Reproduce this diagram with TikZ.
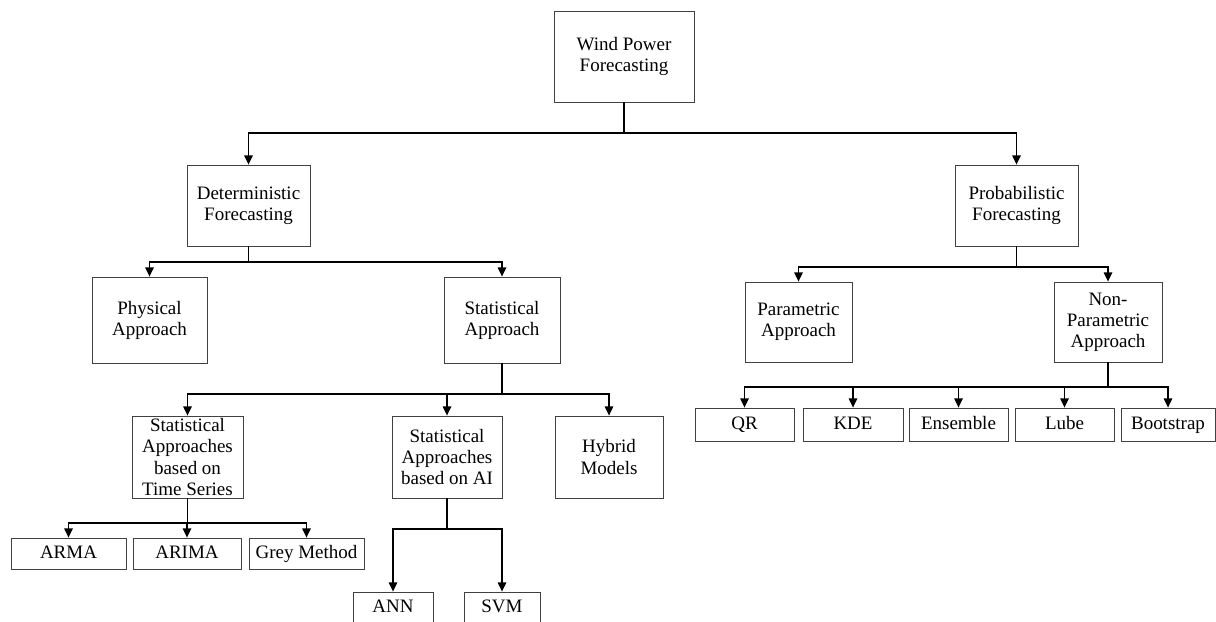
\documentclass[tikz,border=0pt]{standalone}
\usepackage{fontspec}
\setmainfont{Liberation Serif}
\usetikzlibrary{arrows.meta}
\definecolor{BoxClr}{rgb}{0.25,0.25,0.25}
\definecolor{LineClr}{rgb}{0,0,0}

\begin{document}
\begin{tikzpicture}[x=0.025cm,y=-0.025cm,
  box/.style 2 args={draw=BoxClr,line width=0.6pt,align=center,inner sep=0pt,
    minimum width=#1*0.025cm,minimum height=#2*0.025cm,
    font=\fontsize{13.5}{15}\selectfont},
  leaf/.style={text height=1.9ex,text depth=0.45ex},
  arr/.style={line width=0.9pt,color=LineClr,-{Triangle[length=6.5pt,width=6pt]}},
  stem/.style={line width=0.9pt,color=LineClr}]
\useasboundingbox (0,0) rectangle (1216,621);

\node[box={140}{91}] (wpf) at (624,56.5) {Wind Power\\Forecasting};

\node[box={123}{81}] (det) at (248.5,205.5) {Deterministic\\Forecasting};
\node[box={123}{81}] (prob) at (1016.5,205.5) {Probabilistic\\Forecasting};

\node[box={115}{86}] (phys) at (149.5,320) {Physical\\Approach};
\node[box={116}{86}] (stat) at (502,320) {Statistical\\Approach};
\node[box={107}{80}] (para) at (798.5,322) {Parametric\\Approach};
\node[box={108}{80}] (nonp) at (1108,322) {Non-\\Parametric\\Approach};

\node[box={99}{33},leaf] (qr) at (744.5,424.5) {QR};
\node[box={100}{33},leaf] (kde) at (853,424.5) {KDE};
\node[box={99}{33},leaf] (ens) at (958.5,424.5) {Ensemble};
\node[box={99}{33},leaf] (lube) at (1064.5,424.5) {Lube};
\node[box={94}{33},leaf] (boot) at (1168,424.5) {Bootstrap};

\node[box={111}{82}] (ts) at (187.5,457) {Statistical\\Approaches\\based on\\Time Series};
\node[box={110}{82}] (ai) at (447,457) {Statistical\\Approaches\\based on AI};
\node[box={108}{82}] (hyb) at (609,457) {Hybrid\\Models};

\node[box={115}{31},leaf] (arma) at (68.5,553.5) {ARMA};
\node[box={108}{31},leaf] (arima) at (187,553.5) {ARIMA};
\node[box={115}{31},leaf] (grey) at (306.5,553.5) {Grey Method};

\node[box={80}{31},leaf] (ann) at (393,607.5) {ANN};
\node[box={76}{31},leaf] (svm) at (502,607.5) {SVM};

\coordinate (j0) at (624,133);
\coordinate (j1) at (248.5,262);
\coordinate (j2) at (1016.5,267);
\coordinate (j3) at (502,394);
\coordinate (j4) at (1108,387);
\coordinate (j5) at (187.5,523);
\coordinate (j6) at (447,529);

\draw[stem] (wpf) -- (j0);
\draw[arr] (j0) -| (det);
\draw[arr] (j0) -| (prob);

\draw[stem] (det) -- (j1);
\draw[arr] (j1) -| (phys);
\draw[arr] (j1) -| (stat);

\draw[stem] (prob) -- (j2);
\draw[arr] (j2) -| (para);
\draw[arr] (j2) -| (nonp);

\draw[stem] (stat) -- (j3);
\foreach \n in {ts,ai,hyb}
  \draw[arr] (j3) -| (\n);

\draw[stem] (nonp) -- (j4);
\foreach \n in {qr,kde,ens,lube,boot}
  \draw[arr] (j4) -| (\n);

\draw[stem] (ts) -- (j5);
\foreach \n in {arma,arima,grey}
  \draw[arr] (j5) -| (\n);

\draw[stem] (ai) -- (j6);
\draw[arr] (j6) -| (ann);
\draw[arr] (j6) -| (svm);

\end{tikzpicture}
\end{document}
